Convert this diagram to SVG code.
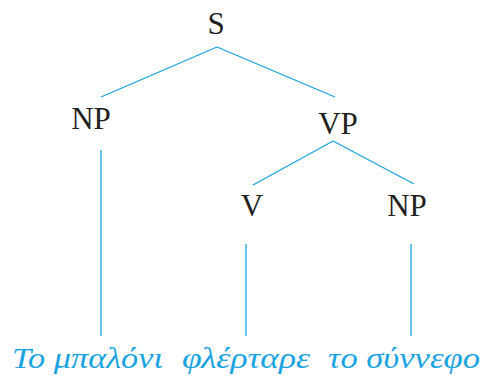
<svg xmlns="http://www.w3.org/2000/svg" width="484" height="378" viewBox="0 0 484 378">
<style>
.lbl{font-family:"Liberation Serif","DejaVu Serif",serif;font-size:31px;fill:#231f20;text-anchor:middle}
.word{font-family:"Liberation Serif","DejaVu Serif",serif;font-style:italic;font-size:30px;fill:#1aa3e0}
.edge{stroke:#1aa3e0;stroke-width:1.3;fill:none}
</style>
<rect width="484" height="378" fill="#ffffff"/>
<g id="connectors">
<line class="edge" x1="217" y1="47" x2="101" y2="97"/>
<line class="edge" x1="217" y1="47" x2="335" y2="97"/>
<line class="edge" x1="333" y1="141" x2="253" y2="185"/>
<line class="edge" x1="333" y1="141" x2="414" y2="184"/>
<line class="edge" x1="101" y1="150" x2="101" y2="336"/>
<line class="edge" x1="246" y1="244" x2="246" y2="336"/>
<line class="edge" x1="411" y1="244" x2="411" y2="336"/>
</g>
<g id="S"><text class="lbl" x="216" y="34">S</text></g>
<g id="NP1"><text class="lbl" x="91" y="129">NP</text></g>
<g id="VP"><text class="lbl" x="338" y="134">VP</text></g>
<g id="V"><text class="lbl" x="252" y="216">V</text></g>
<g id="NP2"><text class="lbl" x="407" y="216">NP</text></g>
<g id="w1"><text class="word" x="12" y="368" textLength="151" lengthAdjust="spacingAndGlyphs">Το μπαλόνι</text></g>
<g id="w2"><text class="word" x="182" y="368" textLength="128" lengthAdjust="spacingAndGlyphs">φλέρταρε</text></g>
<g id="w3"><text class="word" x="328" y="368" textLength="152" lengthAdjust="spacingAndGlyphs">το σύννεφο</text></g>
</svg>
